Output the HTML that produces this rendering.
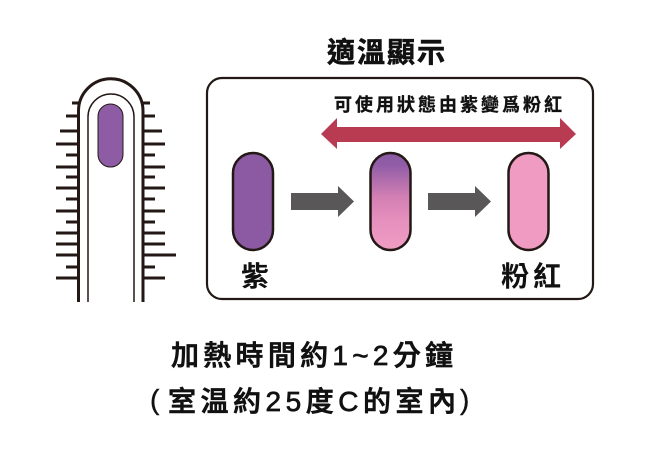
<!DOCTYPE html>
<html>
<head>
<meta charset="utf-8">
<style>
html,body{margin:0;padding:0;background:#fff;}
svg{display:block;}
.cjk{font-family:"Liberation Sans","Noto Sans CJK TC","Noto Sans CJK JP",sans-serif;}
</style>
</head>
<body>
<svg width="650" height="454" viewBox="0 0 650 454" xmlns="http://www.w3.org/2000/svg">
  <defs>
    <linearGradient id="g2" x1="0" y1="0" x2="0" y2="1">
      <stop offset="0" stop-color="#8a5aa3"/>
      <stop offset="0.12" stop-color="#905ca6"/>
      <stop offset="0.45" stop-color="#d27fb3"/>
      <stop offset="0.7" stop-color="#e690bd"/>
      <stop offset="1" stop-color="#f09dc4"/>
    </linearGradient>
  </defs>
  <rect width="650" height="454" fill="#fff"/>

  <!-- Device ticks -->
  <g stroke="#231815" stroke-width="3">
    <line x1="72" y1="103" x2="79" y2="103"/>
    <line x1="66" y1="116" x2="79" y2="116"/>
    <line x1="60" y1="131" x2="79" y2="131"/>
    <line x1="56" y1="144" x2="79" y2="144"/>
    <line x1="66" y1="155" x2="79" y2="155"/>
    <line x1="56" y1="167" x2="79" y2="167"/>
    <line x1="66" y1="177" x2="79" y2="177"/>
    <line x1="56" y1="188" x2="79" y2="188"/>
    <line x1="66" y1="199" x2="79" y2="199"/>
    <line x1="56" y1="211" x2="79" y2="211"/>
    <line x1="66" y1="222" x2="79" y2="222"/>
    <line x1="56" y1="233" x2="79" y2="233"/>
    <line x1="56" y1="244" x2="79" y2="244"/>
    <line x1="56" y1="255" x2="79" y2="255"/>
    <line x1="66" y1="267" x2="79" y2="267"/>
    <line x1="56" y1="278" x2="79" y2="278"/>

    <line x1="142" y1="103" x2="150" y2="103"/>
    <line x1="142" y1="116" x2="155" y2="116"/>
    <line x1="142" y1="131" x2="162" y2="131"/>
    <line x1="142" y1="144" x2="165" y2="144"/>
    <line x1="142" y1="155" x2="155" y2="155"/>
    <line x1="142" y1="167" x2="165" y2="167"/>
    <line x1="142" y1="177" x2="155" y2="177"/>
    <line x1="142" y1="188" x2="165" y2="188"/>
    <line x1="142" y1="199" x2="155" y2="199"/>
    <line x1="142" y1="211" x2="165" y2="211"/>
    <line x1="142" y1="222" x2="155" y2="222"/>
    <line x1="142" y1="233" x2="165" y2="233"/>
    <line x1="142" y1="244" x2="165" y2="244"/>
    <line x1="142" y1="255" x2="176" y2="255"/>
    <line x1="142" y1="267" x2="155" y2="267"/>
    <line x1="142" y1="278" x2="165" y2="278"/>
  </g>

  <!-- Device outline -->
  <path d="M78.5,302 V111 A32.25,32.25 0 0 1 143,111 V302" fill="#fff" stroke="#231815" stroke-width="3"/>
  <path d="M88,302 V117 A23,23 0 0 1 134,117 V302" fill="none" stroke="#231815" stroke-width="1.5"/>
  <rect x="98" y="104" width="25" height="63" rx="12.5" fill="#8e5ba5" stroke="#231815" stroke-width="1"/>

  <!-- Title -->
  <text class="cjk" font-size="28" font-weight="bold" fill="#111" stroke="#111" stroke-width="0.6" y="62" x="327 357 387 417">適溫顯示</text>

  <!-- Box -->
  <rect x="207" y="78" width="386" height="221" rx="15" ry="15" fill="none" stroke="#231815" stroke-width="2.2"/>

  <!-- Subtitle -->
  <text class="cjk" font-size="18" font-weight="bold" fill="#111" stroke="#111" stroke-width="0.3" y="111"
        x="334 355 376 397 418 439 460 481 502 523 544">可使用狀態由紫變爲粉紅</text>

  <!-- Red double arrow -->
  <polygon points="321,134 337,118 337,127 560,127 560,118 576,134 560,149 560,142 337,142 337,149" fill="#b83b51"/>

  <!-- Capsules -->
  <rect x="233" y="153" width="40" height="97" rx="20" ry="20" fill="#8b5aa3" stroke="#231815" stroke-width="2.5"/>
  <rect x="370.5" y="153" width="40" height="97" rx="20" ry="20" fill="url(#g2)" stroke="#231815" stroke-width="2.5"/>
  <rect x="508.5" y="153" width="40" height="97" rx="20" ry="20" fill="#f09cc2" stroke="#231815" stroke-width="2.5"/>

  <!-- Gray arrows -->
  <polygon points="291,193 338,193 338,186 354,201.5 338,217 338,210 291,210" fill="#595757"/>
  <polygon points="428,193 475,193 475,186 491,201.5 475,217 475,210 428,210" fill="#595757"/>

  <!-- Labels -->
  <text class="cjk" font-size="28" font-weight="bold" fill="#111" x="241" y="286">紫</text>
  <text class="cjk" font-size="28" font-weight="bold" fill="#111" y="286" x="501 533">粉紅</text>

  <!-- Bottom text -->
  <text class="cjk" font-size="28" font-weight="500" fill="#111" stroke="#111" stroke-width="0.7" y="365" textLength="282" lengthAdjust="spacing" x="171">加熱時間約1~2分鐘</text>

  <text font-family="Liberation Sans, sans-serif" font-size="28" fill="#111" stroke="#111" stroke-width="0.4" x="150" y="409">(</text>
  <text class="cjk" font-size="28" font-weight="500" fill="#111" stroke="#111" stroke-width="0.7" y="411" textLength="288" lengthAdjust="spacing" x="168">室温約25度C的室內</text>
  <text font-family="Liberation Sans, sans-serif" font-size="28" fill="#111" stroke="#111" stroke-width="0.4" x="460" y="409">)</text>
</svg>
</body>
</html>
